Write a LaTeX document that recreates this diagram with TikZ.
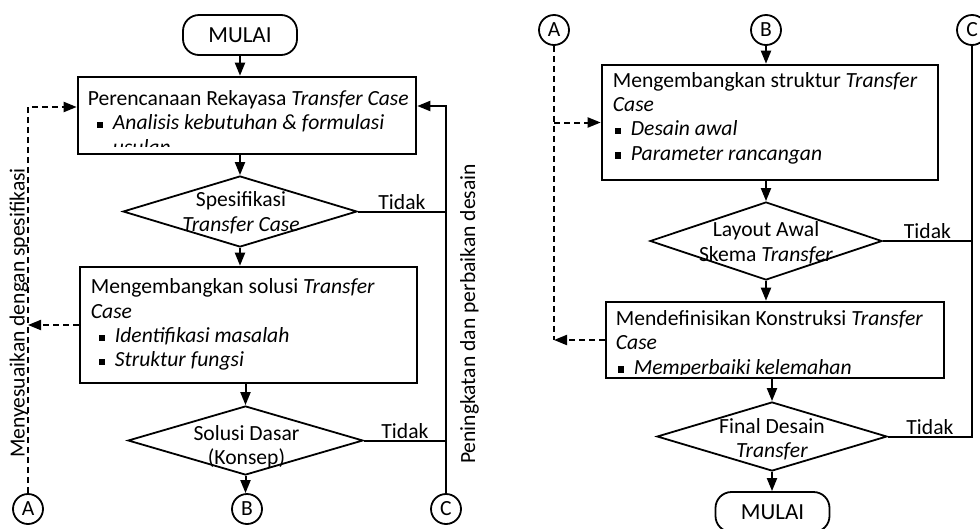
\documentclass[tikz,border=0pt]{standalone}
\usepackage{fontspec}
\setmainfont{Carlito}
\usepackage{tikz}
\usetikzlibrary{shapes.geometric,arrows.meta}

\newcommand{\lead}{\rule{0pt}{16pt}}
\newcommand{\butir}[2][9pt]{\hspace*{#1}\rule[1.5pt]{6.5pt}{6.5pt}\hspace{9.5pt}\textit{#2}}

\tikzset{
    every node/.style={font=\fontsize{21.6}{24.3}\selectfont},
    flowline/.style={line width=2pt},
    flow/.style={flowline, -{Triangle[length=13pt,width=10pt]}},
    dline/.style={flowline, dash pattern=on 6pt off 4pt},
    dflow/.style={dline, -{Triangle[length=13pt,width=10pt]}},
    procbox/.style={draw, rectangle, line width=2.6pt, inner sep=0pt},
    decide/.style={draw, diamond, line width=1.8pt, inner sep=0pt},
    terminal/.style={draw, rectangle, rounded corners=16pt, line width=1.8pt,
        minimum width=114pt, minimum height=40pt, font=\fontsize{23}{24}\selectfont},
    konektor/.style={draw, circle, line width=1.8pt, minimum size=30pt, inner sep=0pt},
    boxtext/.style={anchor=north west, inner sep=0pt, align=left},
    dtext/.style={anchor=north, inner sep=0pt, align=center},
    tidak/.style={above, inner sep=1pt},
    sidelabel/.style={rotate=90, anchor=base, inner sep=0pt}
}

\begin{document}
\begin{tikzpicture}[x=1pt, y=-1pt]
    \useasboundingbox (0,0) rectangle (980,528);

    % Left chart
    \node[terminal] (mulai) at (240,35) {MULAI};
    \node[procbox, minimum width=338pt, minimum height=77pt] (rencana) at (247,115.5) {};
    \node[decide, minimum width=234pt, minimum height=71pt] (spek) at (240,211.5) {};
    \node[procbox, minimum width=337pt, minimum height=116pt] (solusi) at (248.5,325) {};
    \node[decide, minimum width=235pt, minimum height=69pt] (konsep) at (245.5,440.5) {};
    \node[konektor] (A1) at (28,509) {A};
    \node[konektor] (B1) at (247,509) {B};
    \node[konektor] (C1) at (446,509) {C};

    % Texts in left boxes
    \begin{scope}
        \clip ([shift={(1,1)}]rencana.north west) rectangle ([shift={(-1,-9)}]rencana.south east);
        \node[boxtext] (trencana) at ([shift={(11,13.7)}]rencana.north west)
            {\lead Perencanaan Rekayasa \textit{Transfer Case}\\
             \butir{Analisis kebutuhan \& formulasi}\\
             \hspace*{25pt}\textit{usulan}};
    \end{scope}
    \node[boxtext] (tsolusi) at ([shift={(12,12)}]solusi.north west)
        {\lead Mengembangkan solusi \textit{Transfer}\\
         \textit{Case}\\
         \butir[8pt]{Identifikasi masalah}\\
         \butir[8pt]{Struktur fungsi}};
    \node[dtext] (tspek) at ([shift={(1,-20.8)}]spek.center)
        {\lead Spesifikasi\\ \textit{Transfer Case}};
    \node[dtext] (tkonsep) at ([shift={(1,-16.5)}]konsep.center)
        {\lead Solusi Dasar\\ (Konsep)};

    % Left connectors
    \draw[flow] (mulai.south) -- (mulai.south |- rencana.north);
    \draw[flow] (rencana.south -| spek) -- (spek.north);
    \draw[flow] (spek.south) -- (spek.south |- solusi.north);
    \draw[flow] (solusi.south -| konsep) -- (konsep.north);
    \draw[flow] (konsep.south) -- (konsep.south |- B1.north);
    \draw[flowline] (spek.east) -- node[tidak] {Tidak} (spek.east -| C1);
    \draw[flowline] (konsep.east) -- node[tidak] {Tidak} (konsep.east -| C1);
    \coordinate (balik) at (446,106);
    \draw[flow] (C1.north) -- (balik) -- (balik -| rencana.east);
    \coordinate (kiri) at (28,107);
    \draw[dflow] (A1.north) -- (kiri) -- (kiri -| rencana.west);
    \draw[dflow] (solusi.west) -- (solusi.west -| A1);
    \node[sidelabel] (lblA) at (24.5,313) {Menyesuaikan dengan spesifikasi};
    \node[sidelabel] (lblC) at (475,314) {Peningkatan dan perbaikan desain};

    % Right chart
    \node[konektor] (A2) at (554,30) {A};
    \node[konektor] (B2) at (766,30) {B};
    \node[konektor] (C2) at (972,30) {C};
    \node[procbox, minimum width=336pt, minimum height=115pt] (struktur) at (770,122.5) {};
    \node[decide, minimum width=232pt, minimum height=78pt] (layout) at (766,241) {};
    \node[procbox, minimum width=338pt, minimum height=76pt] (konstruksi) at (775,340) {};
    \node[decide, minimum width=230pt, minimum height=69pt] (final) at (772,436.5) {};
    \node[terminal] (selesai) at (772.5,512) {MULAI};

    % Texts in right boxes
    \node[boxtext] (tstruktur) at ([shift={(12,7.3)}]struktur.north west)
        {\lead Mengembangkan struktur \textit{Transfer}\\
         \textit{Case}\\
         \butir[2pt]{Desain awal}\\
         \butir[2pt]{Parameter rancangan}};
    \begin{scope}
        \clip ([shift={(1,1)}]konstruksi.north west) rectangle ([shift={(-1,-5)}]konstruksi.south east);
        \node[boxtext] (tkonstruksi) at ([shift={(11,8.7)}]konstruksi.north west)
            {\lead Mendefinisikan Konstruksi \textit{Transfer}\\
             \textit{Case}\\
             \butir[2pt]{Memperbaiki kelemahan}};
    \end{scope}
    \node[dtext] (tlayout) at ([shift={(0,-20.3)}]layout.center)
        {\lead Layout Awal\\ Skema \textit{Transfer}};
    \node[dtext] (tfinal) at ([shift={(0,-19.2)}]final.center)
        {\lead Final Desain\\ \textit{Transfer}};

    % Right connectors
    \draw[flow] (B2.south) -- (B2.south |- struktur.north);
    \draw[flow] (struktur.south -| layout) -- (layout.north);
    \draw[flow] (layout.south) -- (layout.south |- konstruksi.north);
    \draw[flow] (konstruksi.south -| final) -- (final.north);
    \draw[flow] (final.south) -- (final.south |- selesai.north);
    \draw[flowline] (layout.east) -- node[tidak] {Tidak} (layout.east -| C2);
    \draw[flowline] (C2.south) -- (C2 |- final.east) -- node[tidak] {Tidak} (final.east);
    \draw[dline] (A2.south) -- (A2 |- konstruksi.west);
    \draw[dflow] (A2 |- struktur.west) -- (struktur.west);
    \draw[dflow] (konstruksi.west) -- (konstruksi.west -| A2);
\end{tikzpicture}
\end{document}
